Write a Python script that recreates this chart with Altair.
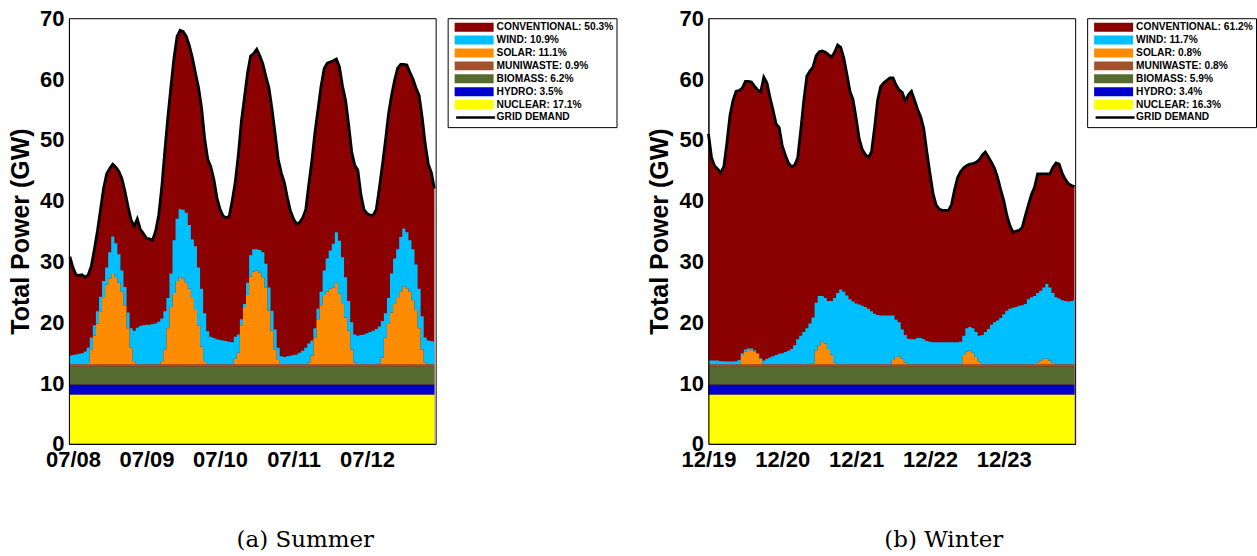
import altair as alt
import pandas as pd

# ---------------- data (GW, hourly) ----------------
SUMMER_HOURS = list(range(-1, 119))
SUMMER_DEMAND = [30.8, 29.0, 27.8, 27.7, 27.8, 27.4, 27.8, 29.2, 32.0, 35.0,
                 38.5, 42.0, 44.4, 45.3, 46.0, 45.5, 44.8, 43.6, 41.5, 39.0,
                 36.8, 35.8, 37.0, 35.3, 34.6, 33.8, 33.7, 33.5, 35.0, 37.6,
                 42.2, 48.2, 53.8, 58.8, 63.5, 67.0, 68.0, 67.8, 67.0, 65.5,
                 63.5, 61.0, 58.6, 55.2, 50.2, 46.8, 45.6, 43.5, 40.5, 38.6,
                 37.5, 37.2, 37.4, 40.0, 43.1, 47.6, 53.1, 57.0, 61.0, 63.8,
                 64.2, 64.9, 63.8, 62.5, 60.4, 58.5, 55.0, 51.0, 46.8, 44.6,
                 43.0, 40.5, 38.3, 37.0, 36.2, 36.4, 37.2, 38.5, 42.7, 46.6,
                 51.2, 55.0, 58.8, 61.7, 62.6, 62.8, 63.0, 63.3, 62.0, 58.8,
                 56.5, 52.5, 48.0, 45.8, 45.0, 41.0, 38.5, 37.9, 37.6, 37.6,
                 38.5, 42.0, 45.8, 49.8, 54.2, 57.3, 59.8, 61.8, 62.4, 62.4,
                 62.3, 61.1, 60.0, 58.5, 57.3, 53.7, 49.3, 46.0, 44.6, 42.0]
SUMMER_SOLAR = [0, 0, 0, 0, 0, 0, 0.2, 2.4, 4.7, 6.7,
                8.7, 11.0, 13.1, 14.1, 15.0, 14.4, 13.4, 11.9, 9.7, 5.9,
                2.7, 0.5, 0, 0, 0, 0, 0, 0, 0, 0,
                0.5, 2.4, 5.9, 9.4, 11.7, 13.7, 14.3, 14.1, 13.4, 12.4,
                10.9, 8.9, 6.4, 2.9, 0.5, 0, 0, 0, 0, 0,
                0, 0, 0, 0, 0.9, 1.9, 6.4, 9.4, 11.4, 14.4,
                15.2, 15.4, 15.1, 14.3, 12.6, 8.8, 5.5, 2.4, 0.7, 0,
                0, 0, 0, 0, 0, 0, 0, 0, 0.3, 1.4,
                4.4, 7.4, 9.7, 11.4, 11.9, 12.4, 12.6, 13.4, 11.6, 9.9,
                7.7, 5.5, 2.4, 0.3, 0, 0, 0, 0, 0, 0,
                0, 0.1, 1.1, 4.4, 6.6, 8.5, 9.9, 10.9, 11.9, 12.8,
                12.5, 11.9, 10.5, 8.9, 5.9, 2.4, 0.3, 0, 0, 0]
SUMMER_WIND = [1.4, 1.5, 1.6, 1.7, 1.8, 2.1, 2.5, 2.0, 1.7, 2.0,
               2.4, 2.7, 2.8, 4.3, 6.0, 5.5, 4.7, 3.5, 3.0, 2.6,
               3.2, 5.0, 6.0, 6.3, 6.4, 6.5, 6.5, 6.6, 6.7, 7.0,
               7.0, 6.3, 5.0, 5.5, 8.7, 10.2, 11.2, 11.3, 11.5, 10.5,
               9.6, 10.5, 9.5, 9.5, 7.9, 5.4, 4.5, 4.3, 4.1, 4.0,
               3.9, 3.8, 3.7, 3.6, 3.6, 3.0, 1.0, 0.5, 2.0, 3.5,
               3.7, 3.5, 3.7, 4.1, 3.9, 3.8, 3.3, 3.3, 2.0, 1.3,
               1.2, 1.3, 1.4, 1.5, 1.6, 1.9, 2.2, 2.7, 3.1, 2.5,
               1.5, 1.7, 2.2, 4.0, 5.5, 6.3, 7.2, 8.3, 8.7, 7.7,
               6.6, 4.9, 4.5, 4.6, 4.7, 4.8, 4.9, 5.1, 5.3, 5.5,
               5.8, 6.1, 6.0, 4.0, 4.3, 6.4, 7.5, 8.0, 9.0, 9.5,
               9.2, 8.5, 8.4, 7.5, 6.5, 5.5, 4.1, 3.9, 3.8, 3.7]

WINTER_HOURS = list(range(0, 120))
WINTER_DEMAND = [51.0, 47.1, 45.7, 45.2, 44.6, 45.6, 49.5, 54.0, 56.5, 58.0,
                 58.1, 58.5, 59.6, 59.6, 59.5, 58.8, 58.2, 57.9, 60.3, 59.4,
                 57.0, 54.9, 52.6, 52.0, 49.0, 47.5, 46.2, 45.6, 45.8, 47.0,
                 51.5, 56.5, 60.5, 61.3, 62.0, 63.8, 64.5, 64.6, 64.4, 64.0,
                 63.6, 64.4, 65.6, 65.2, 63.5, 60.8, 58.0, 56.6, 53.6, 50.2,
                 48.4, 47.6, 47.1, 48.0, 52.0, 56.5, 58.8, 59.4, 59.8, 60.2,
                 60.2, 59.0, 58.2, 57.8, 56.4, 57.4, 58.0, 56.5, 55.0, 53.8,
                 51.8, 48.0, 44.5, 41.2, 39.3, 38.6, 38.4, 38.4, 38.4, 39.3,
                 41.8, 43.8, 44.8, 45.4, 45.8, 46.0, 46.1, 46.3, 46.7, 47.5,
                 48.0, 47.2, 46.3, 45.3, 43.8, 41.8, 40.0, 37.6, 35.9, 34.8,
                 35.0, 35.1, 35.6, 37.5, 39.3, 41.0, 42.2, 44.4, 44.4, 44.4,
                 44.4, 44.4, 45.5, 46.2, 46.0, 44.5, 43.5, 42.8, 42.5, 42.3]
WINTER_SOLAR = [0, 0, 0, 0, 0, 0, 0, 0, 0, 0,
                0, 1.5, 2.1, 2.3, 2.3, 2.1, 1.7, 0.9, 0, 0,
                0, 0, 0, 0, 0, 0, 0, 0, 0, 0,
                0, 0, 0, 0, 0.1, 2.3, 3.1, 3.7, 3.4, 2.5,
                1.6, 0.3, 0, 0, 0, 0, 0, 0, 0, 0,
                0, 0, 0, 0, 0, 0, 0, 0, 0, 0,
                0.7, 1.2, 1.3, 0.9, 0.3, 0, 0, 0, 0, 0,
                0, 0, 0, 0, 0, 0, 0, 0, 0, 0,
                0, 0, 0, 1.5, 2.1, 2.2, 1.9, 1.2, 0.4, 0,
                0, 0, 0, 0, 0, 0, 0, 0, 0, 0,
                0, 0, 0, 0, 0, 0, 0, 0.3, 0.6, 0.9,
                0.9, 0.6, 0.2, 0, 0, 0, 0, 0, 0, 0]
WINTER_WIND = [0.6, 0.6, 0.6, 0.6, 0.5, 0.5, 0.45, 0.45, 0.45, 0.5,
               0.7, 0.3, 0.3, 0.3, 0.3, 0.2, 0.1, 0.1, 0.6, 0.9,
               1.1, 1.3, 1.5, 1.7, 1.8, 2.0, 2.2, 2.5, 3.1, 4.1,
               4.7, 5.3, 5.9, 6.7, 7.6, 7.8, 8.1, 7.5, 7.5, 7.9,
               8.8, 10.6, 11.7, 12.3, 11.9, 11.3, 10.7, 10.3, 10.0, 9.8,
               9.6, 9.4, 9.1, 8.7, 8.3, 8.1, 8.0, 8.0, 8.0, 8.0,
               7.3, 6.1, 5.6, 4.8, 4.5, 4.2, 4.1, 4.1, 4.3, 4.3,
               4.1, 3.8, 3.7, 3.6, 3.6, 3.6, 3.6, 3.6, 3.6, 3.6,
               3.6, 3.6, 3.7, 3.2, 3.8, 3.9, 4.0, 4.1, 4.3, 4.8,
               5.3, 5.8, 6.5, 6.9, 7.2, 7.6, 8.2, 8.8, 9.1, 9.3,
               9.4, 9.6, 9.7, 9.9, 10.7, 11.0, 11.2, 11.4, 11.5, 11.7,
               12.3, 12.0, 11.5, 11.0, 10.8, 10.5, 10.4, 10.3, 10.4, 10.5]

# constant base-load levels (GW)
NUCLEAR_GW = 8.1
HYDRO_GW = 1.65
BIOMASS_GW = 3.0
MUNIWASTE_GW = 0.35

SUMMER_LABELS = ["CONVENTIONAL: 50.3%", "WIND: 10.9%", "SOLAR: 11.1%", "MUNIWASTE: 0.9%",
                 "BIOMASS: 6.2%", "HYDRO: 3.5%", "NUCLEAR: 17.1%"]
WINTER_LABELS = ["CONVENTIONAL: 61.2%", "WIND: 11.7%", "SOLAR: 0.8%", "MUNIWASTE: 0.8%",
                 "BIOMASS: 5.9%", "HYDRO: 3.4%", "NUCLEAR: 16.3%"]
DEMAND_LABEL = "GRID DEMAND"
COLORS = ["#8B0000", "#00BFFF", "#FF8C00", "#A0522D", "#556B2F", "#0000CD", "#FFFF00"]

SUMMER_TICKS = ["07/08", "07/09", "07/10", "07/11", "07/12"]
WINTER_TICKS = ["12/19", "12/20", "12/21", "12/22", "12/23"]
TICK_HOURS = [0, 24, 48, 72, 96]

FONT = "Liberation Sans"
ROW = 12.9
CLIP = 12
LEG_PAD = 3


def panel(hours, demand, solar, wind, labels, ticks, domain, caption, dx):
    stack_rows = []
    for i, h in enumerate(hours):
        parts = [NUCLEAR_GW, HYDRO_GW, BIOMASS_GW, MUNIWASTE_GW, solar[i], wind[i]]
        names = [labels[6], labels[5], labels[4], labels[3], labels[2], labels[1]]
        for k, (nm, v) in enumerate(zip(names, parts)):
            stack_rows.append({"hour": h, "src": nm, "gw": v, "k": k})
    stack_df = pd.DataFrame(stack_rows)
    dem_df = pd.DataFrame({"hour": hours, "demand": demand,
                           "src": labels[0], "lbl": DEMAND_LABEL})

    fill_scale = alt.Scale(domain=labels + [DEMAND_LABEL], range=COLORS + ["#ffffff"])
    fill_legend = alt.Legend(
        title=None, orient="none", legendX=379, legendY=0,
        symbolType="M-1,-0.23H1V0.23H-1Z", symbolSize=1521, clipHeight=CLIP,
        rowPadding=ROW - CLIP, labelFont=FONT, labelFontSize=10.2, labelFontWeight="bold",
        labelColor="black", labelOffset=3, labelLimit=400, strokeColor="black",
        padding=LEG_PAD, symbolOffset=4, symbolStrokeWidth=0, symbolOpacity=1, zindex=1)
    stroke_legend = alt.Legend(
        title=None, orient="none", legendX=379, legendY=7 * ROW,
        symbolType="stroke", symbolSize=1521, symbolStrokeWidth=2.5, clipHeight=CLIP,
        labelFont=FONT, labelFontSize=10.2, labelFontWeight="bold", labelExpr="''",
        labelOffset=3, padding=LEG_PAD, symbolOffset=4, zindex=2)

    xenc = alt.X("hour:Q", scale=alt.Scale(domain=domain, nice=False, zero=False),
                 axis=alt.Axis(values=TICK_HOURS, title=None, grid=False, ticks=False,
                               labelExpr=str(ticks) + "[datum.value / 24]",
                               labelFont=FONT, labelFontSize=22, labelFontWeight="bold",
                               labelColor="black", labelPadding=6, labelFlush=False,
                               domainColor="black", zindex=1))
    yscale = alt.Scale(domain=[0, 70], nice=False)
    yaxis = alt.Axis(values=list(range(0, 71, 10)), title="Total Power (GW)", grid=False,
                     ticks=False, labelFont=FONT, labelFontSize=22, labelFontWeight="bold",
                     labelColor="black", labelPadding=5, titleFont=FONT, titleFontSize=25,
                     titleFontWeight="bold", titleColor="black", titlePadding=6,
                     domainColor="black", zindex=1)

    conv = alt.Chart(dem_df).mark_area(interpolate="linear", opacity=1).encode(
        x=xenc,
        y=alt.Y("demand:Q", stack=None, scale=yscale, axis=yaxis),
        fill=alt.Fill("src:N", scale=fill_scale, legend=fill_legend),
    )
    stacked = alt.Chart(stack_df).mark_area(interpolate="step", opacity=1).encode(
        x=xenc,
        y=alt.Y("gw:Q", stack="zero", scale=yscale, axis=yaxis),
        fill=alt.Fill("src:N", scale=fill_scale, legend=fill_legend),
        order=alt.Order("k:Q", sort="ascending"),
    )
    line = alt.Chart(dem_df).mark_line(interpolate="linear", strokeWidth=2.8).encode(
        x=xenc,
        y=alt.Y("demand:Q", scale=yscale, axis=yaxis),
        stroke=alt.Stroke("lbl:N", scale=alt.Scale(domain=[DEMAND_LABEL], range=["black"]),
                          legend=stroke_legend),
    )
    return alt.layer(conv, stacked, line).properties(
        width=367, height=426,
        title=alt.TitleParams(text=caption, orient="bottom", anchor="middle", frame="group",
                              font="DejaVu Serif", fontSize=23, fontWeight="normal",
                              color="black", offset=58, dx=dx),
    )


left = panel(SUMMER_HOURS, SUMMER_DEMAND, SUMMER_SOLAR, SUMMER_WIND, SUMMER_LABELS,
             SUMMER_TICKS, [-1.3, 118.4], "(a) Summer", 53)
right = panel(WINTER_HOURS, WINTER_DEMAND, WINTER_SOLAR, WINTER_WIND, WINTER_LABELS,
              WINTER_TICKS, [0, 119.2], "(b) Winter", 52)

chart = alt.hconcat(left, right, spacing=30).resolve_scale(
    fill="independent", stroke="independent", x="independent", y="independent"
).resolve_legend(fill="independent", stroke="independent").properties(
    padding={"left": 8, "top": 6, "right": 0, "bottom": 0},
    background="white",
).configure_view(stroke="black", strokeWidth=1)

chart.save("out.html", embed_options={"renderer": "svg", "actions": False})
